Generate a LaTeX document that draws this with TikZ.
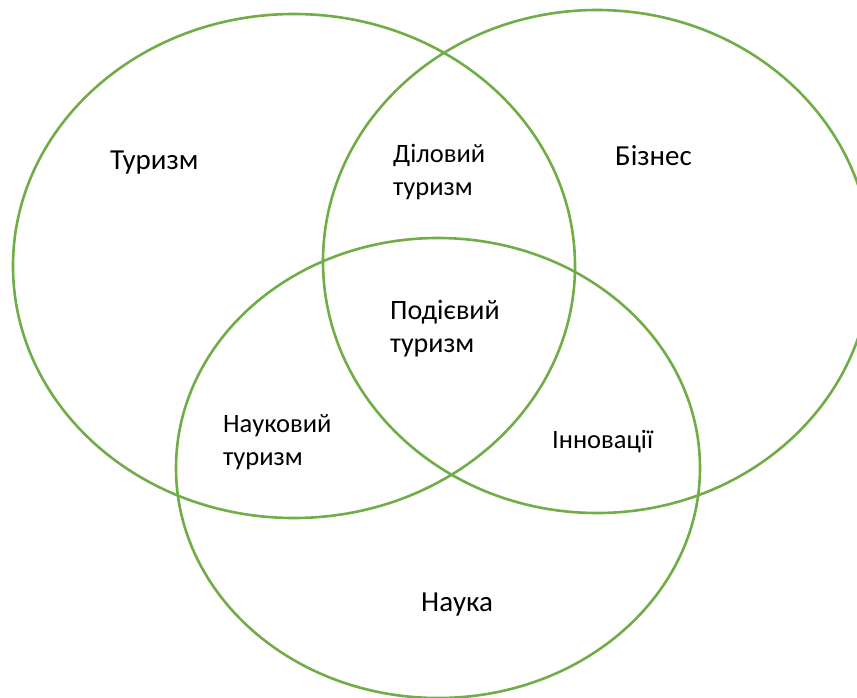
\documentclass[tikz,border=0pt]{standalone}
\usepackage{fontspec}
\setmainfont{Carlito}
\usetikzlibrary{positioning}
\definecolor{vennGreen}{HTML}{70AD47}

\begin{document}
\begin{tikzpicture}[x=1pt, y=1pt,
    set/.style={draw=vennGreen, line width=2.6pt},
    big/.style={font=\fontsize{29}{35}\selectfont, anchor=base west, inner sep=0pt},
    small/.style={font=\fontsize{26.5}{32.5}\selectfont, anchor=base west, inner sep=0pt, align=left}]

    \useasboundingbox (0,0) rectangle (857,-697);

    % Sets
    \draw[set] (294,-266) ellipse [x radius=281, y radius=252];
    \draw[set] (597,-261.5) ellipse [x radius=274, y radius=251.5];
    \draw[set] (438,-468) ellipse [x radius=262, y radius=230];

    %Nodes
    \node[big] (tourism) at (110,-169) {Туризм};
    \node[big] (business) at (615,-165) {Бізнес};
    \node[big] (science) at (421,-611) {Наука};
    \node[small] (biztour) at (393,-195) {Діловий\\туризм};
    \node[big, align=left, font=\fontsize{28}{32.5}\selectfont] (event) at (390,-352) {Подієвий\\туризм};
    \node[small] (scitour) at (223,-465) {Науковий\\туризм};
    \node[small] (innov) at (552,-448) {Інновації};

\end{tikzpicture}
\end{document}
